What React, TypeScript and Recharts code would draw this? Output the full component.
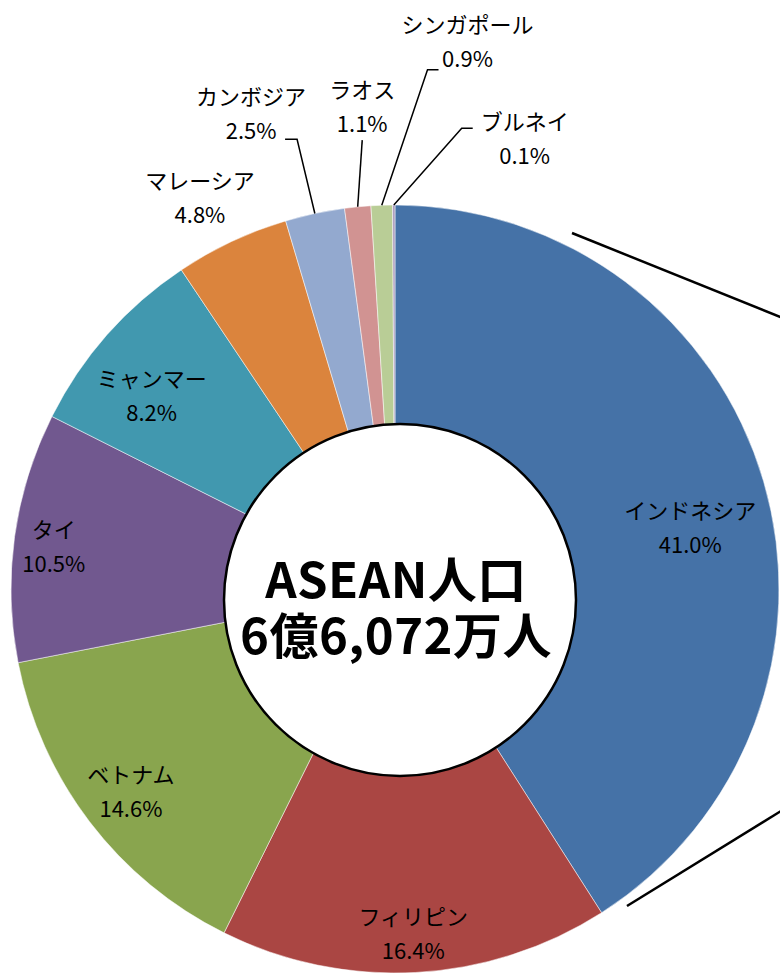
import { Cell, Pie, PieChart } from "recharts";

const countries = [
  "インドネシア",
  "フィリピン",
  "ベトナム",
  "タイ",
  "ミャンマー",
  "マレーシア",
  "カンボジア",
  "ラオス",
  "シンガポール",
  "ブルネイ",
];
const shares = [41.0, 16.4, 14.6, 10.5, 8.2, 4.8, 2.5, 1.1, 0.9, 0.1];
const colors = [
  "#4572A7",
  "#AA4643",
  "#89A54E",
  "#71588F",
  "#4198AF",
  "#DB843D",
  "#93A9CF",
  "#D19392",
  "#B9CD96",
  "#A99BBD",
];
const centerLines = ["ASEAN人口", "6億6,072万人"];

const W = 780;
const H = 975;
const CX = 395;
const CY = 589;
const R = 384;
const RAD = Math.PI / 180;
const FONT = "'Noto Sans CJK JP', 'Noto Sans', sans-serif";

// label placement: radius + angle tweak from the slice middle, optional leader line
type LabelPos = { r: number; da: number; elbow?: [number, number]; end?: [number, number] };
const labelPos: LabelPos[] = [
  { r: 302, da: -4.2 },
  { r: 343, da: 0 },
  { r: 332, da: 0 },
  { r: 344, da: 0.5 },
  { r: 312, da: 2.7 },
  { r: 439, da: 1.2 },
  { r: 498, da: 4.75, elbow: [46, 27], end: [34, 27] },
  { r: 485, da: -1.7, elbow: [0, 35], end: [0, 35] },
  { r: 554, da: -9.5, elbow: [-40, 30], end: [-29, 30] },
  { r: 470, da: -16.2, elbow: [-63, -9], end: [-52, -9] },
];

const data = countries.map((name, i) => ({ name, value: shares[i] }));

function renderLabel(props: any) {
  const { midAngle, index } = props;
  const cx = props.cx ?? CX;
  const cy = props.cy ?? CY;
  const outer = props.outerRadius ?? R;
  const pos = labelPos[index];
  const a = (midAngle + pos.da) * RAD;
  const x = cx + pos.r * Math.cos(a);
  const y = cy - pos.r * Math.sin(a);
  let line = null;
  if (pos.elbow && pos.end) {
    const m = midAngle * RAD;
    const sx = cx + outer * Math.cos(m);
    const sy = cy - outer * Math.sin(m);
    line = (
      <polyline
        points={`${sx},${sy} ${x + pos.elbow[0]},${y + pos.elbow[1]} ${x + pos.end[0]},${y + pos.end[1]}`}
        fill="none"
        stroke="#000"
        strokeWidth={1.5}
      />
    );
  }
  return (
    <g key={`lbl-${index}`}>
      {line}
      <text x={x} y={y - 17} textAnchor="middle" dominantBaseline="central" fontSize={22} fontFamily={FONT} fill="#000">
        {countries[index]}
      </text>
      <text x={x} y={y + 17} textAnchor="middle" dominantBaseline="central" fontSize={22} fontFamily={FONT} fill="#000">
        {shares[index].toFixed(1)}%
      </text>
    </g>
  );
}

export default function App() {
  return (
    <div style={{ position: "absolute", left: 0, top: 0, width: W, height: H, background: "#fff", overflow: "hidden" }}>
      <PieChart width={W} height={H} margin={{ top: 0, right: 0, bottom: 0, left: 0 }}>
        <Pie
          data={data}
          dataKey="value"
          nameKey="name"
          cx={CX}
          cy={CY}
          outerRadius={R}
          startAngle={90}
          endAngle={-270}
          stroke="#fff"
          strokeWidth={0.5}
          label={renderLabel}
          labelLine={false}
          isAnimationActive={false}
        >
          {data.map((d, i) => (
            <Cell key={d.name} fill={colors[i]} />
          ))}
        </Pie>
      </PieChart>
      <svg width={W} height={H} style={{ position: "absolute", left: 0, top: 0, pointerEvents: "none" }}>
        {/* connectors to the breakdown outside the frame */}
        <line x1={CX + 177} y1={CY - 356} x2={CX + 420} y2={CY - 258} stroke="#000" strokeWidth={2.5} />
        <line x1={CX + 232} y1={CY + 317} x2={CX + 420} y2={CY + 201} stroke="#000" strokeWidth={2.5} />
        <circle cx={CX + 5} cy={CY + 11} r={176} fill="#fff" stroke="#000" strokeWidth={2.5} />
        {centerLines.map((t, i) => (
          <text
            key={t}
            x={CX + 1}
            y={CY - 13 + i * 56}
            textAnchor="middle"
            dominantBaseline="central"
            fontSize={49}
            fontWeight="bold"
            letterSpacing={0.5}
            fontFamily={FONT}
            fill="#000"
          >
            {t}
          </text>
        ))}
      </svg>
    </div>
  );
}
